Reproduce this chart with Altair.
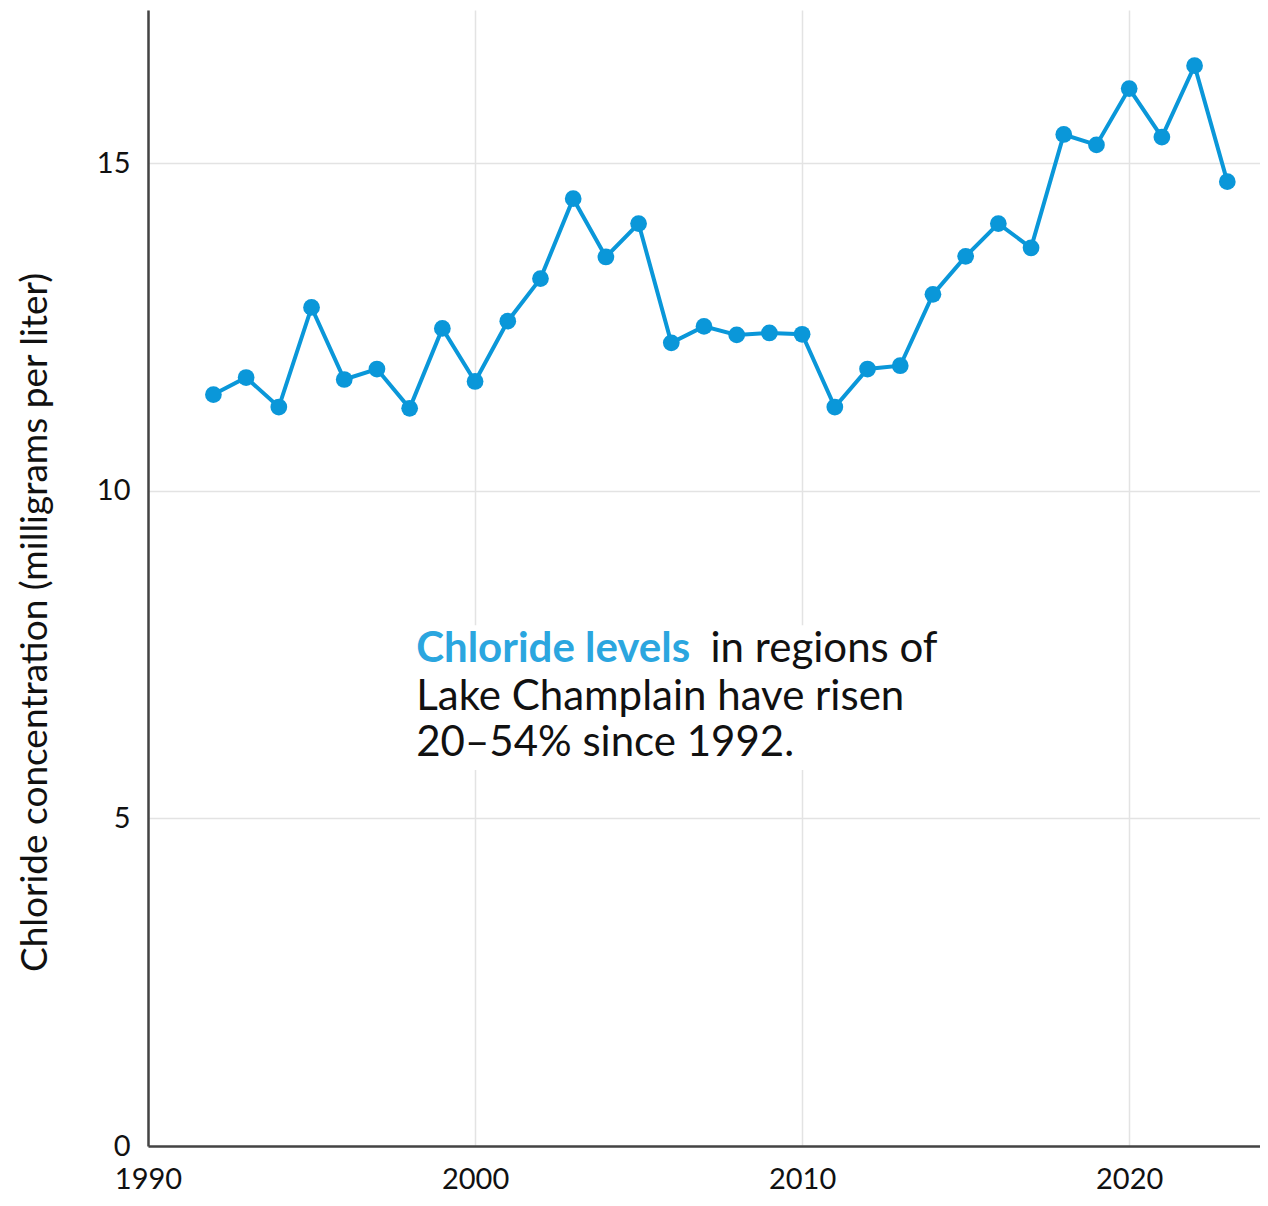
import altair as alt
import pandas as pd

years = list(range(1992, 2024))
chloride = [11.47, 11.73, 11.28, 12.80, 11.70, 11.86, 11.26, 12.48, 11.67, 12.59,
            13.24, 14.46, 13.57, 14.08, 12.26, 12.51, 12.38, 12.41, 12.39, 11.28,
            11.86, 11.91, 13.00, 13.58, 14.08, 13.71, 15.44, 15.28, 16.14, 15.40,
            16.49, 14.72]

x_ticks = [1990, 2000, 2010, 2020]
y_ticks = [0, 5, 10, 15]

note_highlight = "Chloride levels"
note_rest = ["in regions of"]
note_lines = ["Lake Champlain have risen", "20\u201354% since 1992."]

FONT = "Lato"
BLUE = "#0a97d9"

df = pd.DataFrame({"year": years, "value": chloride})

x = alt.X("year:Q", scale=alt.Scale(domain=[1990, 2024], nice=False, zero=False),
          axis=alt.Axis(values=x_ticks, format="d", title=None, ticks=False,
                        labelPadding=19, labelFlush=False, grid=True))
y = alt.Y("value:Q", scale=alt.Scale(domain=[0, 17.34], nice=False),
          axis=alt.Axis(values=y_ticks, format="d",
                        title="Chloride concentration (milligrams per liter)",
                        ticks=False, labelPadding=18, labelFlush=False, grid=True,
                        titlePadding=42, titleY=612))

base = alt.Chart(df).encode(x=x, y=y)
line = base.mark_line(color=BLUE, strokeWidth=4)
pts = base.mark_circle(color=BLUE, size=280, opacity=1)

box = alt.Chart(pd.DataFrame({"x1": [1997.9], "x2": [2014.3], "y1": [5.74], "y2": [7.95]})).mark_rect(
    fill="white").encode(x="x1:Q", x2="x2:Q", y="y1:Q", y2="y2:Q")

t1 = alt.Chart(pd.DataFrame({"x": [1998.2], "y": [7.58], "t": [note_highlight]})).mark_text(
    align="left", baseline="middle", font=FONT, fontSize=42, fontWeight="bold", color="#2ba6df"
).encode(x="x:Q", y="y:Q", text="t:N")
t2 = alt.Chart(pd.DataFrame({"x": [2007.2], "y": [7.58], "t": note_rest})).mark_text(
    align="left", baseline="middle", font=FONT, fontSize=42, color="#111111"
).encode(x="x:Q", y="y:Q", text="t:N")
t3 = alt.Chart(pd.DataFrame({"x": [1998.2, 1998.2], "y": [6.86, 6.15], "t": note_lines})).mark_text(
    align="left", baseline="middle", font=FONT, fontSize=42, color="#111111"
).encode(x="x:Q", y="y:Q", text="t:N")

chart = alt.layer(box, line, pts, t1, t2, t3).properties(
    width=1112, height=1136,
    autosize=alt.AutoSizeParams(type="none"),
    padding={"left": 140, "top": 2, "right": 0, "bottom": 52},
).configure_view(stroke=None).configure_axis(
    labelFont=FONT, titleFont=FONT, labelFontSize=29, titleFontSize=37,
    labelColor="#111111", titleColor="#111111", titleFontWeight="normal",
    domainColor="#444444", domainWidth=2.5, gridColor="#e3e3e3", gridWidth=1.5,
)

chart.save("out.html", embed_options={"renderer": "svg", "actions": False})
